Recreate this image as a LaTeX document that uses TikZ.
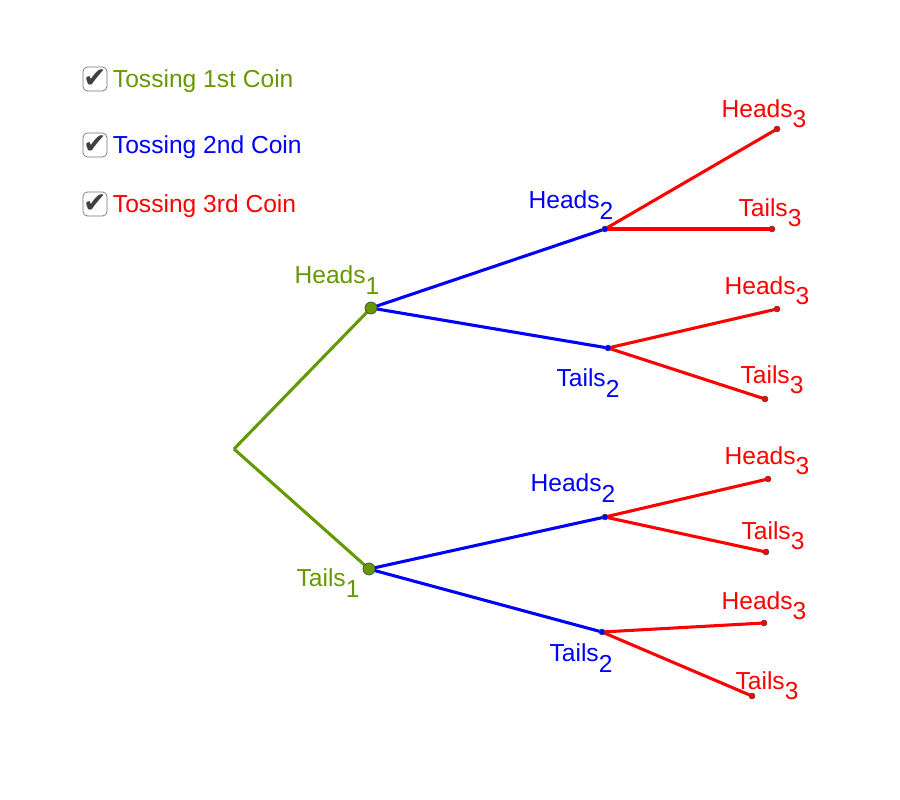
\documentclass[tikz,border=0pt]{standalone}
\usepackage{fontspec}
\setmainfont{Liberation Sans}
\newfontfamily\symfont{DejaVu Sans}
\usetikzlibrary{positioning}
\definecolor{coinone}{RGB}{102,153,0}
\definecolor{cointwo}{RGB}{0,0,255}
\definecolor{cointhree}{RGB}{255,0,0}
\newcommand{\idx}[2]{#1\raisebox{-0.8ex}{#2}}

\begin{document}
\begin{tikzpicture}[
  x=0.02cm, y=-0.02cm,
  lbl/.style={font=\fontsize{14}{16}\selectfont, inner sep=0pt},
  bigpt/.style={circle, draw=black!70, fill=coinone, inner sep=0pt, minimum size=0.24cm, line width=0.4pt},
  smallpt/.style={circle, draw=black!70, fill=#1, inner sep=0pt, minimum size=0.12cm, line width=0.3pt},
  edge/.style={line width=1.75pt, #1},
  chk/.style={draw=black!55, rounded corners=2.5pt, minimum size=0.48cm, inner sep=0pt,
              font=\symfont\fontsize{16}{16}\selectfont, text=black!75}
]
\useasboundingbox (0,0) rectangle (900,800);

% Checkboxes
\node[chk] (boxone) at (95,79) {✔};
\node[lbl, text=coinone, right=3pt of boxone, yshift=-1pt] (legone) {Tossing 1st Coin};
\node[chk] (boxtwo) at (95,145) {✔};
\node[lbl, text=cointwo, right=3pt of boxtwo, yshift=-1pt] (legtwo) {Tossing 2nd Coin};
\node[chk] (boxthree) at (95,204) {✔};
\node[lbl, text=cointhree, right=3pt of boxthree, yshift=-1pt] (legthree) {Tossing 3rd Coin};

% Root
\coordinate (root) at (234,449);

% First coin
\coordinate (h1) at (371,308);
\coordinate (t1) at (369,569);

% Second coin
\coordinate (h1h) at (605,229);
\coordinate (h1t) at (608,348);
\coordinate (t1h) at (605,517);
\coordinate (t1t) at (602,632);

% Third coin
\coordinate (hhh) at (777,129);
\coordinate (hht) at (772,229);
\coordinate (hth) at (777,309);
\coordinate (htt) at (765,399);
\coordinate (thh) at (768,479);
\coordinate (tht) at (766,552);
\coordinate (tth) at (764,623);
\coordinate (ttt) at (752,696);

% Branches
\draw[edge=coinone] (root) -- (h1);
\draw[edge=coinone] (root) -- (t1);
\foreach \a/\b in {h1/h1h, h1/h1t, t1/t1h, t1/t1t}
  \draw[edge=cointwo] (\a) -- (\b);
\foreach \a/\b in {h1h/hhh, h1h/hht, h1t/hth, h1t/htt, t1h/thh, t1h/tht, t1t/tth, t1t/ttt}
  \draw[edge=cointhree] (\a) -- (\b);

% Points
\node[bigpt] (ph1) at (h1) {};
\node[bigpt] (pt1) at (t1) {};
\foreach \p in {h1h, h1t, t1h, t1t}
  \node[smallpt=cointwo] (p\p) at (\p) {};
\foreach \p in {hhh, hht, hth, htt, thh, tht, tth, ttt}
  \node[smallpt=cointhree] (p\p) at (\p) {};

% Labels
\node[lbl, text=coinone] (lh1) at (337,280) {\idx{Heads}{1}};
\node[lbl, text=coinone] (lt1) at (328,583) {\idx{Tails}{1}};
\node[lbl, text=cointwo] (lh1h) at (571,205) {\idx{Heads}{2}};
\node[lbl, text=cointwo] (lh1t) at (588,383) {\idx{Tails}{2}};
\node[lbl, text=cointwo] (lt1h) at (573,488) {\idx{Heads}{2}};
\node[lbl, text=cointwo] (lt1t) at (581,658) {\idx{Tails}{2}};
\node[lbl, text=cointhree] (lhhh) at (764,114) {\idx{Heads}{3}};
\node[lbl, text=cointhree] (lhht) at (770,213) {\idx{Tails}{3}};
\node[lbl, text=cointhree] (lhth) at (767,291) {\idx{Heads}{3}};
\node[lbl, text=cointhree] (lhtt) at (772,380) {\idx{Tails}{3}};
\node[lbl, text=cointhree] (lthh) at (767,461) {\idx{Heads}{3}};
\node[lbl, text=cointhree] (ltht) at (773,536) {\idx{Tails}{3}};
\node[lbl, text=cointhree] (ltth) at (764,606) {\idx{Heads}{3}};
\node[lbl, text=cointhree] (lttt) at (767,686) {\idx{Tails}{3}};
\end{tikzpicture}
\end{document}
